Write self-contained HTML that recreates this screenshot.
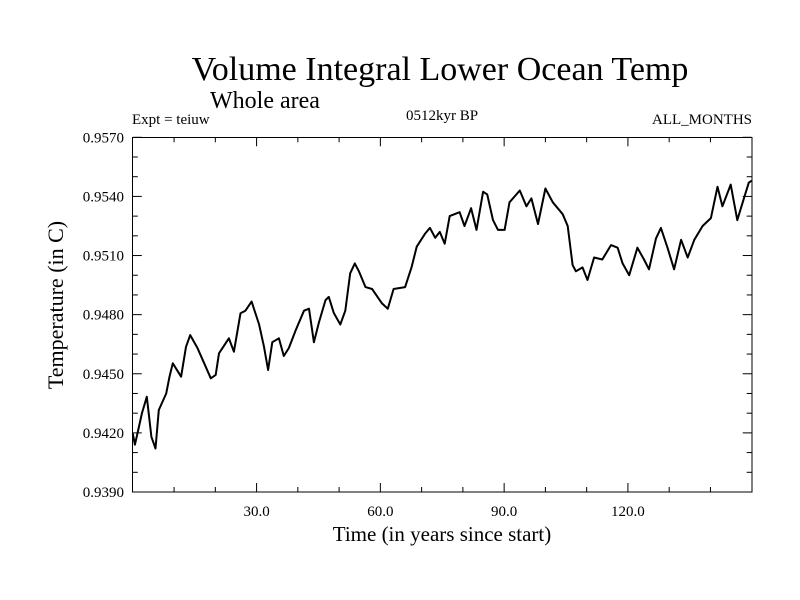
<!DOCTYPE html>
<html><head><meta charset="utf-8"><style>
body{margin:0;background:#fff}
svg{display:block;font-family:"Liberation Serif",serif}
</style></head><body>
<svg id="chart" width="800" height="600">
<text x="440" y="80" font-size="34" text-anchor="middle">Volume Integral Lower Ocean Temp</text>
<text x="210" y="108" font-size="24">Whole area</text>
<text x="132" y="124" font-size="15">Expt = teiuw</text>
<text x="442" y="120" font-size="15" text-anchor="middle">0512kyr BP</text>
<text x="752" y="124" font-size="15" text-anchor="end">ALL_MONTHS</text>
<text x="442" y="541" font-size="21" text-anchor="middle">Time (in years since start)</text>
<text transform="translate(63,305) rotate(-90)" font-size="22" text-anchor="middle">Temperature (in C)</text>
<g id="axes"></g>
<path id="line" fill="none" stroke="#000" stroke-width="2" stroke-linejoin="round"/>
<rect x="132.5" y="137.5" width="619.5" height="354.5" fill="none" stroke="#000" stroke-width="1"/>
</svg>
<script>
const years=[0,0.5,1.3,2.2,3.4,4.5,5.5,6.3,8.1,8.9,9.7,11.7,12.9,13.9,15.7,17.3,18.9,20.1,20.9,23.3,24.5,26.1,27.3,28.8,30.6,31.8,32.8,33.8,35.4,36.6,37.8,39.5,41.5,42.7,43.9,45.1,46.7,47.5,48.7,50.3,51.5,52.7,53.8,54.8,56.4,58.0,60.4,61.8,63.2,66.0,67.6,68.8,70.8,72.0,73.3,74.4,75.6,76.8,79.2,80.4,82.0,83.3,84.9,85.9,87.3,88.5,90.1,91.3,93.8,95.4,96.6,98.2,100.0,101.8,104.2,105.4,106.6,107.4,109.0,110.2,111.8,113.8,115.9,117.5,118.7,120.3,122.3,123.9,125.1,126.8,128.0,129.6,131.2,132.9,134.5,136.1,138.1,140.1,141.7,142.9,144.9,146.5,148.1,149.3,150];
const temps=[0.94197,0.9414,0.94214,0.94299,0.94383,0.9418,0.94121,0.94316,0.9440,0.94485,0.94553,0.94485,0.94637,0.94696,0.94629,0.94553,0.94477,0.94494,0.94604,0.9468,0.94612,0.94807,0.9482,0.94866,0.9475,0.94637,0.94519,0.9466,0.9468,0.9459,0.9463,0.94722,0.9482,0.9483,0.9466,0.9476,0.94874,0.9489,0.9481,0.9475,0.9482,0.9501,0.9506,0.9502,0.9494,0.9493,0.94857,0.9483,0.9493,0.9494,0.95043,0.95145,0.9521,0.9524,0.9519,0.9522,0.9516,0.9530,0.9532,0.9525,0.9534,0.9523,0.95424,0.9541,0.9528,0.9523,0.9523,0.9537,0.9543,0.9535,0.9539,0.9526,0.9544,0.9537,0.9531,0.9525,0.95052,0.9502,0.9504,0.94976,0.9509,0.9508,0.95153,0.9514,0.9506,0.9500,0.9514,0.9508,0.9503,0.95187,0.9524,0.9514,0.9503,0.9518,0.9509,0.9518,0.9525,0.9529,0.95449,0.9535,0.9546,0.9528,0.9539,0.9547,0.9548];
const xTicks=[30,60,90,120];
const xTickLabels=["30.0","60.0","90.0","120.0"];
const yTicks=[0.9390,0.9420,0.9450,0.9480,0.9510,0.9540,0.9570];
const yTickLabels=["0.9390","0.9420","0.9450","0.9480","0.9510","0.9540","0.9570"];
const X0=132.8,X1=751.7,Y0=492,Y1=137.3,XMIN=0,XMAX=150,YMIN=0.9390,YMAX=0.9570;
const sx=v=>X0+(v-XMIN)/(XMAX-XMIN)*(X1-X0);
const sy=v=>Y0-(v-YMIN)/(YMAX-YMIN)*(Y0-Y1);
const NS='http://www.w3.org/2000/svg';
const ax=document.getElementById('axes');
function ln(x1,y1,x2,y2,name){const l=document.createElementNS(NS,'line');l.setAttribute('x1',x1);l.setAttribute('y1',y1);l.setAttribute('x2',x2);l.setAttribute('y2',y2);l.setAttribute('stroke','#000');l.setAttribute('stroke-width','1');


ax.appendChild(l);}
function tx(x,y,s,anchor,name){const t=document.createElementNS(NS,'text');t.setAttribute('x',x);t.setAttribute('y',y);t.setAttribute('font-size','15');t.setAttribute('text-anchor',anchor);t.textContent=s;


ax.appendChild(t);}
for(let v=10;v<XMAX;v+=10){const x=sx(v);const major=v%30===0;const L=major?9:5;
ln(x,Y0,x,Y0-L,'x-tick');ln(x,Y1,x,Y1+L,'x-tick-top');}
xTicks.forEach((v,i)=>tx(sx(v),Y0+24,xTickLabels[i],'middle','x-tick-label'));
for(let k=0;k<=18;k++){const v=YMIN+k*0.001;const y=sy(v);const major=k%3===0;const L=major?9:5;
ln(X0,y,X0+L,y,'y-tick');ln(X1,y,X1-L,y,'y-tick-right');}
yTicks.forEach((v,i)=>tx(124,sy(v)+5,yTickLabels[i],'end','y-tick-label'));
document.getElementById('line').setAttribute('d',years.map((y,i)=>(i?'L':'M')+sx(y).toFixed(1)+','+sy(temps[i]).toFixed(1)).join(''));
</script>
</body></html>
